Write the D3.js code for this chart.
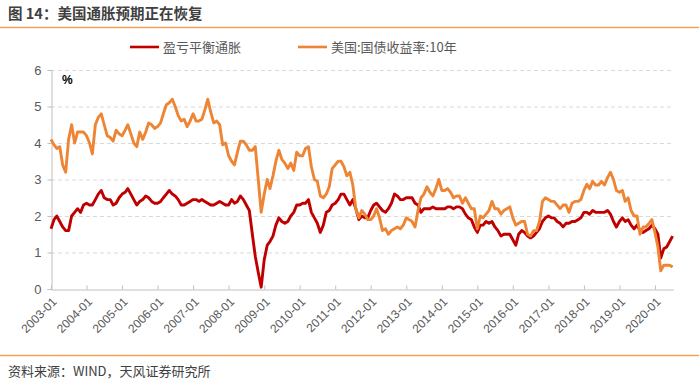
<!DOCTYPE html>
<html>
<head>
<meta charset="utf-8">
<script src="https://cdn.jsdelivr.net/npm/d3@7"></script>
<style>
  body { margin: 0; background: #fff; }
  text { font-family: "Liberation Sans", Arial, "Noto Sans CJK SC", sans-serif; }
</style>
</head>
<body>
<div id="container"></div>
<script>
// monthly values, 2003-01 .. 2020-07
const startMonth = "2003-01"
const breakeven = [
  1.65, 1.9, 2.0, 1.85, 1.7, 1.6, 1.6, 2.0, 2.1, 2.2, 2.1, 2.3,
  2.35, 2.3, 2.3, 2.45, 2.6, 2.7, 2.5, 2.45, 2.45, 2.3, 2.35, 2.5,
  2.6, 2.65, 2.75, 2.6, 2.45, 2.3, 2.4, 2.45, 2.55, 2.5, 2.4, 2.35,
  2.35, 2.4, 2.5, 2.6, 2.7, 2.6, 2.55, 2.45, 2.3, 2.3, 2.35, 2.4,
  2.45, 2.45, 2.4, 2.45, 2.4, 2.35, 2.3, 2.3, 2.35, 2.4, 2.35, 2.3,
  2.3, 2.45, 2.35, 2.4, 2.55, 2.45, 2.3, 2.15, 1.5, 0.9, 0.45, 0.05,
  0.8, 1.2, 1.3, 1.45, 1.75, 1.95, 1.85, 1.8, 1.85, 2.0, 2.1, 2.3,
  2.3, 2.35, 2.35, 2.45, 2.1, 1.95, 1.8, 1.55, 1.75, 2.1, 2.15, 2.3,
  2.35, 2.45, 2.6, 2.6, 2.45, 2.3, 2.45, 2.2, 1.9, 2.0, 1.95, 1.95,
  2.15, 2.3, 2.35, 2.25, 2.15, 2.1, 2.2, 2.35, 2.6, 2.55, 2.45, 2.45,
  2.5, 2.5, 2.5, 2.35, 2.3, 2.1, 2.2, 2.2, 2.2, 2.25, 2.2, 2.2,
  2.2, 2.2, 2.25, 2.25, 2.2, 2.25, 2.25, 2.2, 2.05, 1.95, 1.9, 1.7,
  1.55, 1.75, 1.75, 1.85, 1.8, 1.85, 1.7, 1.6, 1.45, 1.5, 1.5, 1.5,
  1.35, 1.2, 1.5, 1.6, 1.55, 1.45, 1.4, 1.45, 1.55, 1.65, 1.85, 1.95,
  2.0, 1.95, 1.95, 1.85, 1.8, 1.7, 1.8, 1.8, 1.85, 1.85, 1.9, 1.95,
  2.1, 2.1, 2.05, 2.15, 2.1, 2.1, 2.1, 2.1, 2.15, 2.05, 1.85, 1.7,
  1.85, 1.95, 1.85, 1.9, 1.75, 1.65, 1.75, 1.6, 1.55, 1.6, 1.65, 1.75,
  1.65, 1.5, 0.85, 1.1, 1.15, 1.3, 1.45
]
const treasury10y = [
  4.1, 3.95, 3.85, 3.9, 3.4, 3.2, 4.1, 4.5, 4.0, 4.3, 4.3, 4.3,
  4.2, 4.0, 3.7, 4.5, 4.7, 4.8, 4.5, 4.2, 4.15, 4.05, 4.35, 4.25,
  4.2, 4.35, 4.5, 4.25, 4.0, 3.9, 4.3, 4.1, 4.3, 4.55, 4.5, 4.4,
  4.45, 4.55, 4.8, 5.05, 5.1, 5.2, 5.0, 4.75, 4.6, 4.65, 4.45, 4.6,
  4.8, 4.6, 4.6, 4.65, 4.9, 5.2, 4.85, 4.55, 4.6, 4.5, 3.95, 4.0,
  3.65, 3.5, 3.4, 3.75, 4.05, 4.05, 3.95, 3.8, 3.8, 3.9, 3.0, 2.1,
  2.6, 3.0, 2.75, 3.1, 3.5, 3.8, 3.55, 3.45, 3.3, 3.45, 3.25, 3.75,
  3.65, 3.65, 3.85, 3.9, 3.35, 3.0, 2.95, 2.55, 2.5, 2.6, 2.8, 3.3,
  3.4, 3.5, 3.5, 3.35, 3.1, 3.2, 2.85, 2.2, 1.95, 2.15, 2.05, 1.9,
  1.9, 2.0, 2.2, 1.95, 1.6, 1.65, 1.5, 1.6, 1.65, 1.7, 1.65, 1.75,
  1.95, 1.9, 1.85, 1.7, 2.15, 2.5, 2.6, 2.8, 2.65, 2.55, 2.75, 3.0,
  2.7, 2.7, 2.75, 2.65, 2.5, 2.55, 2.55, 2.35, 2.5, 2.35, 2.2, 2.2,
  1.65, 2.0, 1.95, 2.05, 2.15, 2.4, 2.2, 2.2, 2.05, 2.15, 2.2, 2.25,
  1.95, 1.75, 1.8, 1.85, 1.85, 1.5, 1.45, 1.6, 1.6, 1.85, 2.4, 2.5,
  2.45, 2.4, 2.4, 2.3, 2.2, 2.3, 2.3, 2.1, 2.35, 2.4, 2.4, 2.45,
  2.7, 2.87, 2.75, 2.95, 2.85, 2.85, 2.95, 2.85, 3.05, 3.2, 3.0, 2.7,
  2.65, 2.7, 2.4, 2.5, 2.15, 2.0, 2.0, 1.5, 1.7, 1.7, 1.8, 1.9,
  1.55, 1.15, 0.5, 0.65, 0.65, 0.65, 0.6
]
const seriesNames = ["盈亏平衡通胀", "美国:国债收益率:10年"]
const seriesColors = ["#C00000", "#EE8534"]
const yTicks = [0, 1, 2, 3, 4, 5, 6]
const xTickLabels = ["2003-01", "2004-01", "2005-01", "2006-01", "2007-01", "2008-01",
  "2009-01", "2010-01", "2011-01", "2012-01", "2013-01", "2014-01", "2015-01",
  "2016-01", "2017-01", "2018-01", "2019-01", "2020-01"]

const W = 699, H = 385
const parseMonth = d3.timeParse("%Y-%m")

let svg = d3.select("#container").append("svg")
    .attr("width", W).attr("height", H)

// title + rules
svg.append("text")
    .attr("x", 8).attr("y", 19)
    .style("font-family", "'Noto Sans CJK SC', sans-serif")
    .style("font-size", "14.5px").style("font-weight", "bold")
    .attr("fill", "#404040")
    .text("图 14：美国通胀预期正在恢复")
svg.append("line").attr("x1", 0).attr("x2", W).attr("y1", 27.5).attr("y2", 27.5)
    .attr("stroke", "#F2A25C").attr("stroke-width", 1.5)
svg.append("line").attr("x1", 0).attr("x2", W).attr("y1", 355.5).attr("y2", 355.5)
    .attr("stroke", "#F2A25C").attr("stroke-width", 1.5)
svg.append("text")
    .attr("x", 8).attr("y", 376)
    .style("font-family", "'Noto Sans CJK SC', sans-serif")
    .style("font-size", "13px")
    .attr("fill", "#404040")
    .text("资料来源：WIND，天风证券研究所")

// scales
const dates = breakeven.map((d, i) => d3.timeMonth.offset(parseMonth(startMonth), i))
const xScale = d3.scaleTime()
    .domain([parseMonth("2003-01"), new Date(2020, 6, 5)])
    .range([51, 673])
const yScale = d3.scaleLinear().domain([0, 6]).range([289, 70])

// grid
svg.append("g").selectAll("line")
    .data(yTicks.filter(d => d > 0))
    .enter().append("line")
    .attr("x1", 51).attr("x2", 673)
    .attr("y1", d => yScale(d) + 0.5).attr("y2", d => yScale(d) + 0.5)
    .attr("stroke", "#D9D9D9").attr("stroke-dasharray", "4,3")

// y axis
let yAxis = svg.append("g")
    .attr("transform", "translate(51.5,0)")
    .call(d3.axisLeft(yScale).tickValues(yTicks).tickSize(4).tickPadding(6).tickFormat(d3.format("d")))
yAxis.select(".domain").attr("stroke", "#BFBFBF")
yAxis.selectAll(".tick line").attr("stroke", "#BFBFBF")
yAxis.selectAll("text").style("font-size", "13px").attr("fill", "#595959")

// x axis
let xAxis = svg.append("g")
    .attr("transform", "translate(0,289.5)")
    .call(d3.axisBottom(xScale)
        .tickValues(xTickLabels.map(parseMonth))
        .tickSize(-4).tickSizeOuter(0)
        .tickFormat(d3.timeFormat("%Y-%m")))
xAxis.select(".domain").attr("stroke", "#BFBFBF")
xAxis.selectAll(".tick line").attr("stroke", "#BFBFBF")
xAxis.selectAll("text")
    .style("font-size", "12px").attr("fill", "#595959")
    .style("text-anchor", "end")
    .attr("dy", null).attr("y", 0)
    .attr("transform", "translate(6,13) rotate(-45)")

svg.append("text")
    .attr("x", 62).attr("y", 84)
    .style("font-size", "12px").style("font-weight", "bold")
    .attr("fill", "#000")
    .text("%")

// lines
let line = d3.line()
    .x((d, i) => xScale(dates[i]))
    .y(d => yScale(d))

;[breakeven, treasury10y].forEach((values, k) => {
    svg.append("path")
        .attr("fill", "none")
        .attr("stroke", seriesColors[k])
        .attr("stroke-width", 2.9)
        .attr("stroke-linejoin", "round")
        .attr("d", line(values))
})

// legend
const legendX = [130, 298]
seriesNames.forEach((name, k) => {
    svg.append("line")
        .attr("x1", legendX[k]).attr("x2", legendX[k] + 29)
        .attr("y1", 47).attr("y2", 47)
        .attr("stroke", seriesColors[k]).attr("stroke-width", 2.6)
    svg.append("text")
        .attr("x", legendX[k] + 33).attr("y", 52)
        .style("font-family", "'Noto Sans CJK SC', sans-serif")
        .style("font-size", "13px")
        .attr("fill", "#595959")
        .text(name)
})
</script>
</body>
</html>
